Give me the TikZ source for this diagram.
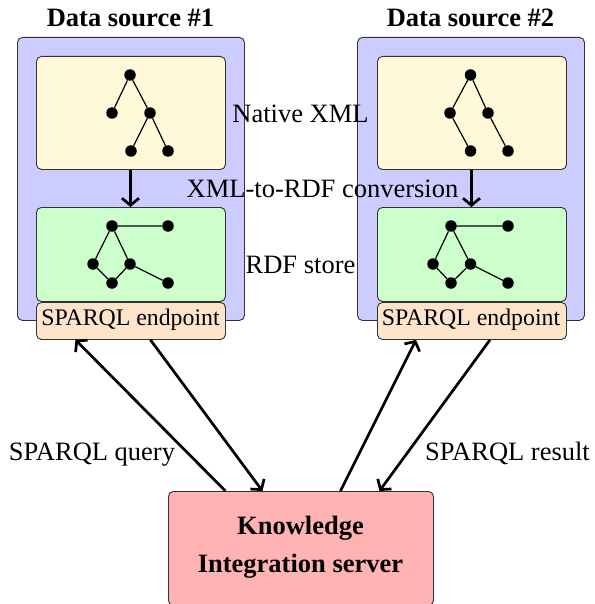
\documentclass[tikz,border=0pt]{standalone}
\usepackage{fontspec}
\setmainfont{Liberation Serif}
\usetikzlibrary{arrows.meta}
\definecolor{dsblue}{RGB}{204,204,255}
\definecolor{xmlyellow}{RGB}{255,249,217}
\definecolor{rdfgreen}{RGB}{204,255,204}
\definecolor{eppeach}{RGB}{255,228,204}
\definecolor{kispink}{RGB}{255,179,179}
\definecolor{edgegray}{RGB}{50,50,50}
\newcommand{\normtext}{\fontsize{26.5bp}{31bp}\selectfont}
\newcommand{\smalltext}{\fontsize{23.8bp}{28bp}\selectfont}
\tikzset{
  panel/.style={draw=edgegray, line width=0.9bp, rounded corners=5bp, inner sep=0pt, anchor=north west},
  dsbox/.style={panel, fill=dsblue, minimum width=227bp, minimum height=283bp},
  xmlbox/.style={panel, fill=xmlyellow, minimum width=189bp, minimum height=113bp},
  rdfbox/.style={panel, fill=rdfgreen, minimum width=189bp, minimum height=94bp},
  epbox/.style={panel, fill=eppeach, minimum width=189bp, minimum height=37bp},
  kisbox/.style={panel, fill=kispink, minimum width=265bp, minimum height=114bp},
  dot/.style={circle, fill=black, inner sep=0pt, minimum size=11.5bp},
  tedge/.style={line width=1.2bp},
  arr/.style={line width=2.7bp, -{Straight Barb[length=7bp,width=17bp,line width=2.7bp]}},
  lbl/.style={inner sep=0pt, anchor=base, font=\normtext},
}
\begin{document}
\begin{tikzpicture}[x=1bp,y=-1bp]
\useasboundingbox (0,0) rectangle (595,604);

% ---- Data source #1 ----
\node[lbl, font=\normtext\bfseries] (t1) at (130.5,27) {Data source \#1};
\node[dsbox] (ds1) at (17,37) {};
\node[xmlbox] (x1) at (36,56) {};
\node[rdfbox] (r1) at (36,207) {};
\node[epbox] (ep1) at (36,302) {};
\node[inner sep=0pt, anchor=base, font=\smalltext] (ep1t) at (130.5,325) {SPARQL endpoint};

% ---- Data source #2 ----
\node[lbl, font=\normtext\bfseries] (t2) at (470.5,27) {Data source \#2};
\node[dsbox] (ds2) at (357,37) {};
\node[xmlbox] (x2) at (377,56) {};
\node[rdfbox] (r2) at (377,207) {};
\node[epbox] (ep2) at (377,302) {};
\node[inner sep=0pt, anchor=base, font=\smalltext] (ep2t) at (471,325) {SPARQL endpoint};

% ---- conversion arrows ----
\draw[arr] ([xshift=-0.5bp]x1.south) -- ([xshift=-0.5bp]r1.north);
\draw[arr] ([xshift=-0.5bp]x2.south) -- ([xshift=-0.5bp]r2.north);

% ---- XML tree #1 ----
\node[dot] (a1) at (130,75) {};
\node[dot] (a2) at (112,113) {};
\node[dot] (a3) at (150,113) {};
\node[dot] (a4) at (131,151) {};
\node[dot] (a5) at (168,151) {};
\draw[tedge] (a1) -- (a2) (a1) -- (a3) (a3) -- (a4) (a3) -- (a5);

% ---- XML tree #2 ----
\node[dot] (b1) at (470.5,75) {};
\node[dot] (b2) at (450,113) {};
\node[dot] (b3) at (488,113) {};
\node[dot] (b4) at (470.5,151) {};
\node[dot] (b5) at (508,151) {};
\draw[tedge] (b1) -- (b2) (b1) -- (b3) (b2) -- (b4) (b3) -- (b5);

% ---- RDF graph #1 ----
\node[dot] (c1) at (112,226) {};
\node[dot] (c2) at (168,226) {};
\node[dot] (c3) at (93,264) {};
\node[dot] (c4) at (130,264) {};
\node[dot] (c5) at (112,283) {};
\node[dot] (c6) at (168,283) {};
\draw[tedge] (c1) -- (c2) (c1) -- (c3) (c1) -- (c4) (c3) -- (c5) (c5) -- (c4) (c4) -- (c6);

% ---- RDF graph #2 ----
\node[dot] (d1) at (451,226) {};
\node[dot] (d2) at (508,226) {};
\node[dot] (d3) at (433,264) {};
\node[dot] (d4) at (470.5,264) {};
\node[dot] (d5) at (451,283) {};
\node[dot] (d6) at (508,283) {};
\draw[tedge] (d1) -- (d2) (d1) -- (d3) (d1) -- (d4) (d3) -- (d5) (d5) -- (d4) (d4) -- (d6);

% ---- middle labels ----
\node[lbl] (nx) at (300.5,123) {Native XML};
\node[lbl] (conv) at (322.5,197) {XML-to-RDF conversion};
\node[lbl] (rs) at (300.5,273) {RDF store};

% ---- Knowledge Integration server ----
\node[kisbox] (kis) at (168,491) {};
\node[inner sep=0pt, anchor=base, font=\normtext\bfseries] (k1) at (300.5,534) {Knowledge};
\node[inner sep=0pt, anchor=base, font=\normtext\bfseries] (k2) at (300.5,572) {Integration server};

% ---- query / result arrows ----
\draw[arr] ([xshift=-75.5bp]kis.north) -- ([xshift=-55.5bp]ep1.south);
\draw[arr] ([xshift=19.5bp]ep1.south) -- ([xshift=-38.5bp]kis.north);
\draw[arr] ([xshift=39.5bp]kis.north) -- ([xshift=-56bp]ep2.south);
\draw[arr] ([xshift=18bp]ep2.south) -- ([xshift=78.5bp]kis.north);

\node[lbl] (q) at (92,460) {SPARQL query};
\node[lbl] (r) at (507.5,460) {SPARQL result};
\end{tikzpicture}
\end{document}
